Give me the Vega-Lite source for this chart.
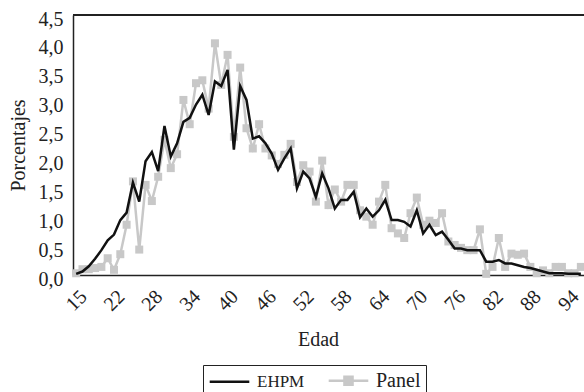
{
  "$schema": "https://vega.github.io/schema/vega-lite/v6.json",
  "width": 511,
  "height": 260,
  "autosize": {"type": "none"},
  "padding": {"left": 73, "top": 15, "right": 0, "bottom": 117},
  "background": "white",
  "config": {
    "view": {"stroke": null},
    "font": "Liberation Serif",
    "axis": {"labelFont": "Liberation Serif", "titleFont": "Liberation Serif", "labelColor": "#222", "titleColor": "#222", "titleFontWeight": "normal", "labelFontSize": 20, "titleFontSize": 20, "domainColor": "#222", "domainWidth": 1.5, "ticks": false, "grid": false}
  },
  "datasets": {
    "d": [
      {"edad":15,"EHPM":0.02,"Panel":0.03},{"edad":17,"EHPM":0.06,"Panel":0.10},{"edad":18,"EHPM":0.15,"Panel":0.10},{"edad":19,"EHPM":0.28,"Panel":0.12},{"edad":20,"EHPM":0.43,"Panel":0.14},
      {"edad":21,"EHPM":0.60,"Panel":0.29},{"edad":22,"EHPM":0.70,"Panel":0.09},{"edad":23,"EHPM":0.95,"Panel":0.36},{"edad":24,"EHPM":1.08,"Panel":0.87},{"edad":25,"EHPM":1.60,"Panel":1.62},
      {"edad":26,"EHPM":1.27,"Panel":0.44},{"edad":27,"EHPM":1.97,"Panel":1.56},{"edad":28,"EHPM":2.13,"Panel":1.28},{"edad":29,"EHPM":1.80,"Panel":1.70},{"edad":30,"EHPM":2.58,"Panel":2.34},
      {"edad":31,"EHPM":2.05,"Panel":1.85},{"edad":32,"EHPM":2.28,"Panel":2.09},{"edad":33,"EHPM":2.65,"Panel":3.03},{"edad":34,"EHPM":2.72,"Panel":2.61},{"edad":35,"EHPM":2.95,"Panel":3.32},
      {"edad":36,"EHPM":3.12,"Panel":3.37},{"edad":37,"EHPM":2.77,"Panel":2.88},{"edad":38,"EHPM":3.35,"Panel":4.01},{"edad":39,"EHPM":3.27,"Panel":3.29},{"edad":40,"EHPM":3.55,"Panel":3.81},
      {"edad":41,"EHPM":2.17,"Panel":2.39},{"edad":42,"EHPM":3.27,"Panel":3.59},{"edad":43,"EHPM":3.03,"Panel":2.54},{"edad":44,"EHPM":2.36,"Panel":2.19},{"edad":45,"EHPM":2.40,"Panel":2.61},
      {"edad":46,"EHPM":2.28,"Panel":2.19},{"edad":47,"EHPM":2.10,"Panel":2.07},{"edad":48,"EHPM":1.82,"Panel":1.92},{"edad":49,"EHPM":2.02,"Panel":2.08},{"edad":50,"EHPM":2.19,"Panel":2.27},
      {"edad":51,"EHPM":1.50,"Panel":1.61},{"edad":52,"EHPM":1.79,"Panel":1.90},{"edad":53,"EHPM":1.67,"Panel":1.79},{"edad":54,"EHPM":1.35,"Panel":1.27},{"edad":55,"EHPM":1.76,"Panel":1.98},
      {"edad":56,"EHPM":1.50,"Panel":1.21},{"edad":57,"EHPM":1.15,"Panel":1.48},{"edad":58,"EHPM":1.30,"Panel":1.27},{"edad":59,"EHPM":1.30,"Panel":1.56},{"edad":60,"EHPM":1.44,"Panel":1.56},
      {"edad":61,"EHPM":1.00,"Panel":1.12},{"edad":62,"EHPM":1.15,"Panel":1.01},{"edad":63,"EHPM":1.01,"Panel":0.87},{"edad":64,"EHPM":1.12,"Panel":1.27},{"edad":65,"EHPM":1.30,"Panel":1.56},
      {"edad":66,"EHPM":0.95,"Panel":0.81},{"edad":67,"EHPM":0.95,"Panel":0.72},{"edad":68,"EHPM":0.92,"Panel":0.64},{"edad":69,"EHPM":0.84,"Panel":1.07},{"edad":70,"EHPM":1.12,"Panel":1.34},
      {"edad":71,"EHPM":0.72,"Panel":0.87},{"edad":72,"EHPM":0.87,"Panel":0.94},{"edad":73,"EHPM":0.69,"Panel":0.90},{"edad":74,"EHPM":0.75,"Panel":1.07},{"edad":75,"EHPM":0.61,"Panel":0.58},
      {"edad":76,"EHPM":0.46,"Panel":0.52},{"edad":77,"EHPM":0.46,"Panel":0.47},{"edad":78,"EHPM":0.43,"Panel":0.43},{"edad":79,"EHPM":0.43,"Panel":0.43},{"edad":80,"EHPM":0.43,"Panel":0.79},
      {"edad":81,"EHPM":0.23,"Panel":0.02},{"edad":82,"EHPM":0.23,"Panel":0.14},{"edad":83,"EHPM":0.26,"Panel":0.64},{"edad":84,"EHPM":0.20,"Panel":0.14},{"edad":85,"EHPM":0.20,"Panel":0.37},
      {"edad":86,"EHPM":0.17,"Panel":0.35},{"edad":87,"EHPM":0.14,"Panel":0.37},{"edad":88,"EHPM":0.12,"Panel":0.14},{"edad":89,"EHPM":0.09,"Panel":0.03},{"edad":90,"EHPM":0.06,"Panel":0.08},
      {"edad":91,"EHPM":0.03,"Panel":0.03},{"edad":92,"EHPM":0.03,"Panel":0.14},{"edad":93,"EHPM":0.03,"Panel":0.14},{"edad":94,"EHPM":0.02,"Panel":0.03},{"edad":95,"EHPM":0.02,"Panel":0.03},
      {"edad":96,"EHPM":0.02,"Panel":0.14}
    ]
  },
  "data": {"name": "d"},
  "transform": [{"fold": ["Panel", "EHPM"], "as": ["serie", "valor"]}],
  "encoding": {
    "x": {"field": "edad", "type": "ordinal", "sort": "ascending",
      "scale": {"type": "point", "padding": 0.5},
      "axis": {"title": "Edad", "values": [15,22,28,34,40,46,52,58,64,70,76,82,88,94], "labelAngle": -45, "labelPadding": 11, "titlePadding": 15, "titleX": 245}},
    "y": {"field": "valor", "type": "quantitative",
      "scale": {"domain": [0, 4.5], "nice": false},
      "axis": {"title": "Porcentajes", "values": [0,0.5,1,1.5,2,2.5,3,3.5,4,4.5], "labelExpr": "replace(format(datum.value, '.1f'), '.', ',')", "labelPadding": 10, "labelOffset": 4, "titlePadding": 10}},
    "color": {"field": "serie", "type": "nominal",
      "scale": {"domain": ["EHPM", "Panel"], "range": ["#111111", "#c8c8c8"]},
      "legend": {"title": null, "orient": "none", "legendX": 130, "legendY": 350, "direction": "horizontal",
        "strokeColor": "#222", "padding": 5, "labelFont": "Liberation Serif",
        "labelFontSize": {"expr": "datum.label == 'EHPM' ? 17 : 20"}, "labelColor": "#222",
        "symbolType": {"expr": "datum.label == 'EHPM' ? 'M-2.2,0H2.2' : 'M-2.2,0H2.2M-0.45,-0.45H0.45V0.45H-0.45Z'"},
        "symbolFillColor": {"expr": "datum.label == 'EHPM' ? 'transparent' : '#c8c8c8'"},
        "symbolSize": 324, "symbolStrokeWidth": 2.5, "symbolOffset": 11, "columnPadding": 18, "labelOffset": 17}}
  },
  "layer": [
    {"transform": [{"filter": "datum.serie == 'Panel'"}],
     "mark": {"type": "line", "strokeWidth": 2.5, "point": {"shape": "square", "size": 64, "filled": true, "color": "#c8c8c8", "opacity": 1}}},
    {"transform": [{"filter": "datum.serie == 'EHPM'"}],
     "mark": {"type": "line", "strokeWidth": 2.5}},
    {"mark": {"type": "rule", "color": "#222", "strokeWidth": 1.5},
     "encoding": {"y": {"datum": 4.5}, "x": null, "color": {"value": "#222"}}}
  ]
}
